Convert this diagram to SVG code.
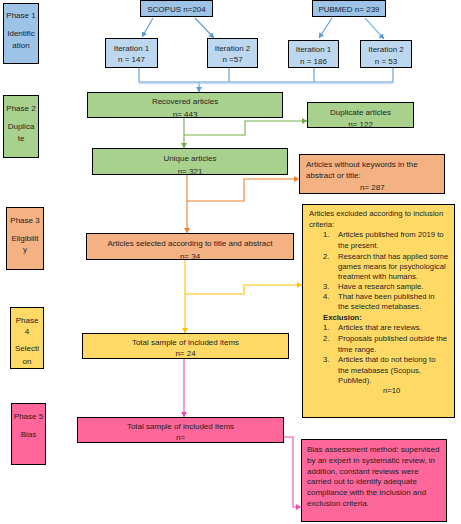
<svg xmlns="http://www.w3.org/2000/svg" width="461" height="524" viewBox="0 0 461 524">
<style>
text{font-family:"Liberation Sans","DejaVu Sans",sans-serif;font-size:8px;fill:#1e1e1e}
.c{text-anchor:middle}
.b{font-weight:bold}
.sm text{font-size:7.7px}
.box{stroke:#000;stroke-width:1}
.blue{fill:#9DC3E6}.lblue{fill:#BDD7EE}.green{fill:#A9D18E}.orange{fill:#F4B183}.yellow{fill:#FFD966}.pink{fill:#FF6699}
.ln{fill:none;stroke-width:1.1}
</style>
<defs>
<marker id="ab" markerWidth="6" markerHeight="6" refX="5" refY="3" orient="auto" markerUnits="userSpaceOnUse"><path d="M0,0L5,3L0,6z" fill="#5B9BD5"/></marker>
<marker id="ag" markerWidth="6" markerHeight="6" refX="5" refY="3" orient="auto" markerUnits="userSpaceOnUse"><path d="M0,0L5,3L0,6z" fill="#70AD47"/></marker>
<marker id="ao" markerWidth="6" markerHeight="6" refX="5" refY="3" orient="auto" markerUnits="userSpaceOnUse"><path d="M0,0L5,3L0,6z" fill="#ED7D31"/></marker>
<marker id="ay" markerWidth="6" markerHeight="6" refX="5" refY="3" orient="auto" markerUnits="userSpaceOnUse"><path d="M0,0L5,3L0,6z" fill="#FFC000"/></marker>
<marker id="ap" markerWidth="6" markerHeight="6" refX="5" refY="3" orient="auto" markerUnits="userSpaceOnUse"><path d="M0,0L5,3L0,6z" fill="#E64BB0"/></marker>
<clipPath id="cRec"><rect x="87.5" y="92.5" width="194" height="24"/></clipPath>
<clipPath id="cDup"><rect x="307.5" y="102.5" width="105" height="24"/></clipPath>
<clipPath id="cUni"><rect x="92.5" y="148.5" width="194" height="25"/></clipPath>
<clipPath id="cSel"><rect x="86.5" y="233.5" width="206" height="25"/></clipPath>
<clipPath id="cP4"><rect x="10.5" y="307.5" width="32" height="60"/></clipPath>
</defs>

<g id="connectors">
<g stroke="#5B9BD5" class="ln">
<line x1="153" y1="18" x2="142" y2="37" marker-end="url(#ab)"/>
<line x1="195" y1="18" x2="214" y2="38" marker-end="url(#ab)"/>
<line x1="332" y1="18" x2="319" y2="38" marker-end="url(#ab)"/>
<line x1="365" y1="18" x2="384" y2="39" marker-end="url(#ab)"/>
<polyline points="139,68 139,82 393,82 393,68"/>
<line x1="229" y1="68" x2="229" y2="82"/>
<line x1="314" y1="68" x2="314" y2="82"/>
<line x1="199" y1="82" x2="199" y2="92" marker-end="url(#ab)"/>
</g>
<line x1="139" y1="83.6" x2="393" y2="83.6" stroke="#BDD7EE" stroke-width="1"/>
<g stroke="#70AD47" class="ln">
<line x1="184" y1="117" x2="184" y2="148" marker-end="url(#ag)"/>
<polyline points="184,135 245,135 245,121 307,121" marker-end="url(#ag)"/>
</g>
<g stroke="#ED7D31" class="ln">
<line x1="187" y1="174" x2="187" y2="233" marker-end="url(#ao)"/>
<polyline points="187,201 244,201 244,179 299,179" marker-end="url(#ao)"/>
</g>
<g stroke="#FFC000" class="ln">
<line x1="185" y1="259" x2="185" y2="333" marker-end="url(#ay)"/>
<polyline points="185,294 244,294 244,285 302,285" marker-end="url(#ay)"/>
</g>
<g stroke="#E64BB0" class="ln">
<line x1="184" y1="358" x2="184" y2="417" marker-end="url(#ap)"/>
<polyline points="283,437 293,437 293,507 301,507" marker-end="url(#ap)"/>
</g>
</g>

<g id="phase1"><rect class="box blue" x="3.5" y="3.5" width="35" height="60"/>
<text class="c" x="21" y="18">Phase 1</text><text class="c" x="21" y="36">Identific</text><text class="c" x="21" y="48">ation</text></g>
<g id="phase2"><rect class="box green" x="3.5" y="95.5" width="35" height="62"/>
<text class="c" x="21" y="110.5">Phase 2</text><text class="c" x="21" y="128.5">Duplica</text><text class="c" x="21" y="140.5">te</text></g>
<g id="phase3"><rect class="box orange" x="6.5" y="207.5" width="37" height="62"/>
<text class="c" x="25" y="222.5">Phase 3</text><text class="c" x="25" y="240.5">Eligibilit</text><text class="c" x="25" y="252">y</text></g>
<g id="phase4"><rect class="box yellow" x="10.5" y="307.5" width="33" height="61"/>
<g clip-path="url(#cP4)"><text class="c" x="27" y="322.5">Phase</text><text class="c" x="27" y="333.5">4</text><text class="c" x="27" y="350.5">Selecti</text><text class="c" x="27" y="364">on</text></g></g>
<g id="phase5"><rect class="box pink" x="11.5" y="403.5" width="34" height="61"/>
<text class="c" x="28.5" y="418.5">Phase 5</text><text class="c" x="28.5" y="436.5">Bias</text></g>

<g id="scopus"><rect class="box blue" x="140.5" y="0.5" width="72" height="16"/><text class="c" x="176.5" y="11.5">SCOPUS n=204</text></g>
<g id="pubmed"><rect class="box blue" x="312.5" y="0.5" width="73" height="16"/><text class="c" x="349" y="11.5">PUBMED n= 239</text></g>
<g id="s-it1"><rect class="box lblue" x="105.5" y="38.5" width="52" height="29"/><text class="c" x="131.5" y="50.5">Iteration 1</text><text class="c" x="131.5" y="62">n = 147</text></g>
<g id="s-it2"><rect class="box lblue" x="207.5" y="38.5" width="50" height="29"/><text class="c" x="232.5" y="50.5">Iteration 2</text><text class="c" x="232.5" y="62">n =57</text></g>
<g id="p-it1"><rect class="box lblue" x="288.5" y="40.5" width="50" height="27"/><text class="c" x="313.5" y="52">Iteration 1</text><text class="c" x="313.5" y="63.5">n = 186</text></g>
<g id="p-it2"><rect class="box lblue" x="360.5" y="40.5" width="51" height="27"/><text class="c" x="386" y="52">Iteration 2</text><text class="c" x="386" y="63.5">n = 53</text></g>

<g id="recovered"><rect class="box green" x="87.5" y="92.5" width="195" height="25"/>
<text class="c" x="185" y="104">Recovered articles</text><text class="c" x="185" y="116.5" clip-path="url(#cRec)">n= 443</text></g>
<g id="duplicate"><rect class="box green" x="307.5" y="102.5" width="106" height="25"/>
<text class="c" x="360.5" y="114.5">Duplicate articles</text><text class="c" x="360.5" y="126.5" clip-path="url(#cDup)">n= 122</text></g>
<g id="unique"><rect class="box green" x="92.5" y="148.5" width="195" height="26"/>
<text class="c" x="190" y="161">Unique articles</text><text class="c" x="190" y="174" clip-path="url(#cUni)">n= 321</text></g>
<g id="nokeywords"><rect class="box orange" x="299.5" y="154.5" width="145" height="39"/>
<text x="306" y="166.5">Articles without keywords in the</text><text x="306" y="178">abstract or title:</text><text x="360" y="189.5">n= 287</text></g>
<g id="selected"><rect class="box orange" x="86.5" y="233.5" width="207" height="26"/>
<text class="c" x="190" y="246">Articles selected according to title and abstract</text><text class="c" x="190" y="259" clip-path="url(#cSel)">n= 34</text></g>
<g id="excluded" class="sm"><rect class="box yellow" x="302.5" y="204.5" width="152" height="213"/>
<text x="309" y="215.5">Articles excluded according to inclusion</text>
<text x="309" y="226.5">criteria:</text>
<text x="323" y="236.5">1.</text><text x="338" y="236.5">Articles published from 2019 to</text>
<text x="338" y="247.5">the present.</text>
<text x="323" y="258.5">2.</text><text x="338" y="258.5">Research that has applied some</text>
<text x="338" y="268.5">games means for psychological</text>
<text x="338" y="278.5">treatment with humans.</text>
<text x="323" y="288.5">3.</text><text x="338" y="288.5">Have a research sample.</text>
<text x="323" y="298.5">4.</text><text x="338" y="298.5">That have been published in</text>
<text x="338" y="308.5">the selected metabases.</text>
<text class="b" x="323" y="319.5">Exclusion:</text>
<text x="323" y="330">1.</text><text x="338" y="330">Articles that are reviews.</text>
<text x="323" y="340.5">2.</text><text x="338" y="340.5">Proposals published outside the</text>
<text x="338" y="351.5">time range.</text>
<text x="323" y="361.5">3.</text><text x="338" y="361.5">Articles that do not belong to</text>
<text x="338" y="372.5">the metabases (Scopus,</text>
<text x="338" y="382.5">PubMed).</text>
<text x="383" y="393">n=10</text></g>
<g id="total"><rect class="box yellow" x="82.5" y="333.5" width="206" height="25"/>
<text class="c" x="185.5" y="344.5">Total sample of included items</text><text class="c" x="185.5" y="355.5">n= 24</text></g>
<g id="total-bias"><rect class="box pink" x="77.5" y="417.5" width="206" height="25"/>
<text class="c" x="180.5" y="428.5">Total sample of included items</text><text class="c" x="180.5" y="439.5">n=</text></g>
<g id="bias-method"><rect class="box pink" x="301.5" y="439.5" width="145" height="82"/>
<text x="307" y="451.5">Bias assessment method: supervised</text>
<text x="307" y="462.5">by an expert in systematic review, in</text>
<text x="307" y="473.5">addition, constant reviews were</text>
<text x="307" y="484">carried out to identify adequate</text>
<text x="307" y="494.5">compliance with the inclusion and</text>
<text x="307" y="505.5">exclusion criteria.</text></g>
</svg>
